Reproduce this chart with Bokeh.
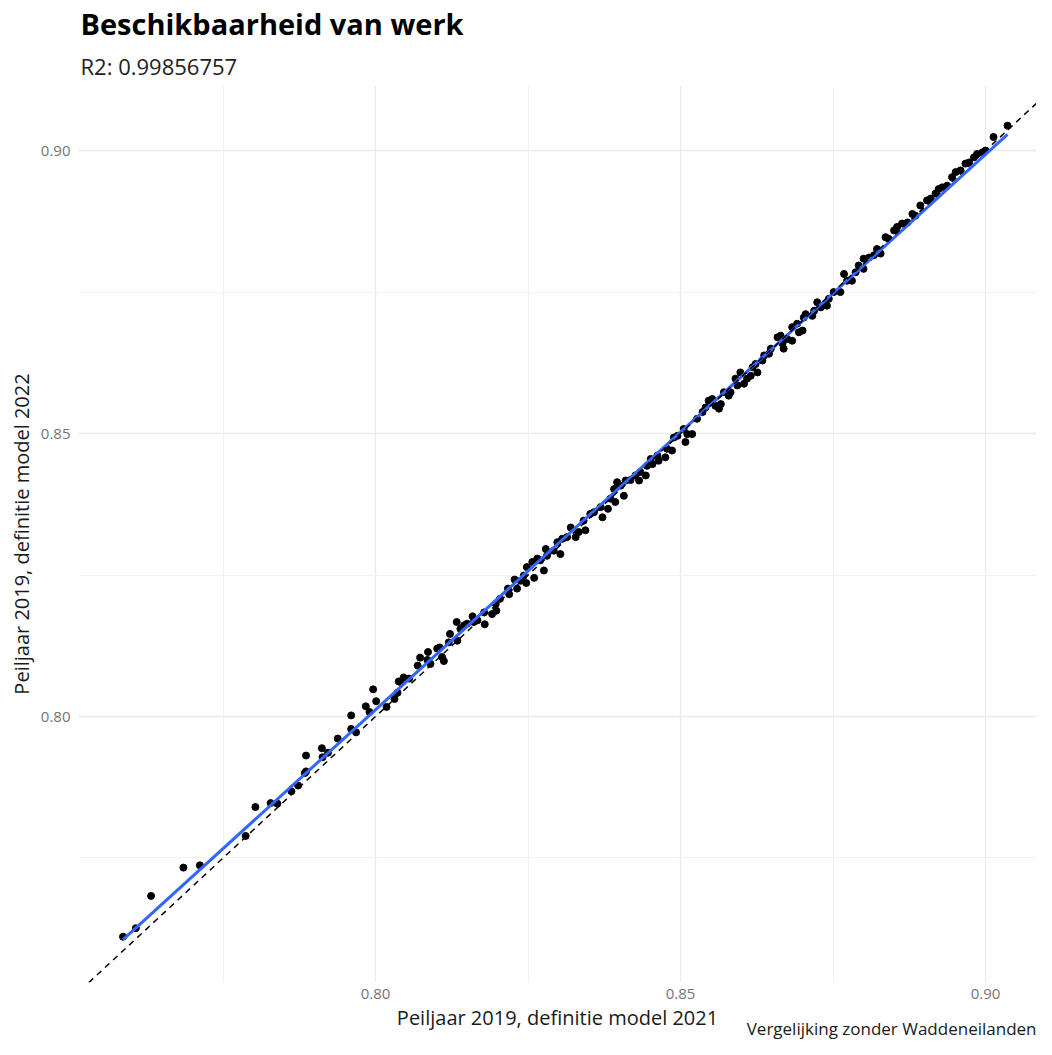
import numpy as np
from bokeh.plotting import figure
from bokeh.models import Slope, Title, FixedTicker, NumeralTickFormatter, ColumnDataSource
from bokeh.embed import file_html
from bokeh.resources import INLINE

title_text = "Beschikbaarheid van werk"
subtitle_text = "R2: 0.99856757"
x_label = "Peiljaar 2019, definitie model 2021"
y_label = "Peiljaar 2019, definitie model 2022"
caption_text = "Vergelijking zonder Waddeneilanden"

major_ticks = [0.80, 0.85, 0.90]
minor_ticks = [0.775, 0.825, 0.875]

x_model_2021 = [
    0.7586, 0.7607, 0.7632, 0.7685, 0.7712, 0.7787, 0.7803, 0.7828, 0.7839, 0.7862,
    0.7873, 0.7884, 0.7886, 0.7886, 0.7912, 0.7913, 0.7922, 0.7938, 0.7960, 0.7960,
    0.7968, 0.7984, 0.7990, 0.7996, 0.8001, 0.8018, 0.8031, 0.8036, 0.8038, 0.8041,
    0.8046, 0.8055, 0.8069, 0.8073, 0.8085, 0.8086, 0.8090, 0.8101, 0.8105, 0.8109,
    0.8112, 0.8120, 0.8122, 0.8133, 0.8134, 0.8139, 0.8145, 0.8150, 0.8159, 0.8161,
    0.8167, 0.8178, 0.8179, 0.8191, 0.8198, 0.8197, 0.8204, 0.8217, 0.8219, 0.8228,
    0.8232, 0.8238, 0.8243, 0.8247, 0.8260, 0.8248, 0.8257, 0.8265, 0.8270, 0.8276,
    0.8279, 0.8281, 0.8292, 0.8298, 0.8303, 0.8306, 0.8314, 0.8320, 0.8328, 0.8333,
    0.8341, 0.8344, 0.8352, 0.8358, 0.8369, 0.8372, 0.8381, 0.8385, 0.8393, 0.8391,
    0.8396, 0.8402, 0.8407, 0.8410, 0.8418, 0.8426, 0.8432, 0.8434, 0.8443, 0.8445,
    0.8451, 0.8454, 0.8462, 0.8464, 0.8475, 0.8478, 0.8486, 0.8489, 0.8495, 0.8508,
    0.8511, 0.8519, 0.8505, 0.8527, 0.8536, 0.8541, 0.8546, 0.8552, 0.8557, 0.8563,
    0.8566, 0.8571, 0.8579, 0.8582, 0.8590, 0.8593, 0.8598, 0.8604, 0.8609, 0.8615,
    0.8618, 0.8623, 0.8626, 0.8634, 0.8637, 0.8645, 0.8648, 0.8659, 0.8664, 0.8667,
    0.8669, 0.8675, 0.8683, 0.8683, 0.8691, 0.8694, 0.8700, 0.8702, 0.8705, 0.8716,
    0.8719, 0.8724, 0.8730, 0.8740, 0.8743, 0.8751, 0.8762, 0.8768, 0.8773, 0.8781,
    0.8787, 0.8792, 0.8800, 0.8800, 0.8809, 0.8817, 0.8822, 0.8828, 0.8836, 0.8841,
    0.8850, 0.8855, 0.8863, 0.8872, 0.8880, 0.8885, 0.8893, 0.8904, 0.8910, 0.8918,
    0.8923, 0.8929, 0.8937, 0.8945, 0.8951, 0.8959, 0.8967, 0.8973, 0.8981, 0.8986,
    0.8995, 0.9000, 0.9013, 0.9036,
]

y_model_2022 = [
    0.7611, 0.7626, 0.7683, 0.7733, 0.7737, 0.7789, 0.7840, 0.7847, 0.7846, 0.7868,
    0.7878, 0.7900, 0.7931, 0.7903, 0.7944, 0.7928, 0.7936, 0.7961, 0.8002, 0.7978,
    0.7972, 0.8018, 0.8008, 0.8048, 0.8027, 0.8017, 0.8031, 0.8042, 0.8062, 0.8061,
    0.8069, 0.8067, 0.8090, 0.8104, 0.8100, 0.8114, 0.8093, 0.8120, 0.8122, 0.8105,
    0.8098, 0.8131, 0.8146, 0.8167, 0.8134, 0.8155, 0.8161, 0.8164, 0.8177, 0.8167,
    0.8170, 0.8184, 0.8163, 0.8181, 0.8187, 0.8199, 0.8208, 0.8226, 0.8216, 0.8242,
    0.8226, 0.8240, 0.8249, 0.8236, 0.8245, 0.8264, 0.8273, 0.8279, 0.8276, 0.8258,
    0.8296, 0.8284, 0.8293, 0.8308, 0.8287, 0.8314, 0.8317, 0.8334, 0.8317, 0.8326,
    0.8346, 0.8329, 0.8358, 0.8361, 0.8370, 0.8352, 0.8367, 0.8385, 0.8379, 0.8402,
    0.8414, 0.8408, 0.8390, 0.8417, 0.8418, 0.8426, 0.8417, 0.8432, 0.8426, 0.8443,
    0.8455, 0.8446, 0.8461, 0.8452, 0.8458, 0.8473, 0.8470, 0.8493, 0.8496, 0.8485,
    0.8499, 0.8499, 0.8508, 0.8526, 0.8538, 0.8546, 0.8558, 0.8561, 0.8549, 0.8544,
    0.8552, 0.8573, 0.8567, 0.8573, 0.8597, 0.8585, 0.8608, 0.8588, 0.8597, 0.8602,
    0.8617, 0.8623, 0.8608, 0.8629, 0.8638, 0.8641, 0.8650, 0.8670, 0.8673, 0.8659,
    0.8650, 0.8667, 0.8664, 0.8688, 0.8694, 0.8679, 0.8682, 0.8705, 0.8711, 0.8708,
    0.8717, 0.8732, 0.8723, 0.8726, 0.8738, 0.8750, 0.8750, 0.8782, 0.8770, 0.8770,
    0.8785, 0.8797, 0.8791, 0.8809, 0.8811, 0.8815, 0.8826, 0.8818, 0.8847, 0.8844,
    0.8859, 0.8865, 0.8871, 0.8873, 0.8888, 0.8885, 0.8903, 0.8912, 0.8915, 0.8924,
    0.8932, 0.8935, 0.8938, 0.8953, 0.8962, 0.8965, 0.8977, 0.8979, 0.8988, 0.8994,
    0.8997, 0.9000, 0.9024, 0.9044,
]

FONT = "Open Sans"

W, H = 1036, 1039
BL, BR, BT, BB = 78, 0, 85, 57
FW, FH = W - BL - BR, H - BT - BB

p = figure(
    width=W, height=H,
    x_range=(0.7513, 0.7513 + FW / 6100.0), y_range=(0.7530, 0.9115),
    output_backend="svg", toolbar_location=None,
    min_border_left=BL, min_border_right=BR, min_border_top=BT, min_border_bottom=BB,
)
p.outline_line_color = None
p.background_fill_color = "white"
p.border_fill_color = "white"

for ax in (p.xaxis, p.yaxis):
    ax.ticker = FixedTicker(ticks=major_ticks, minor_ticks=minor_ticks)
    ax.formatter = NumeralTickFormatter(format="0.00")
    ax.axis_line_color = None
    ax.major_tick_line_color = None
    ax.minor_tick_line_color = None
    ax.major_tick_out = 0
    ax.major_tick_in = 0
    ax.minor_tick_out = 0
    ax.minor_tick_in = 0
    ax.major_label_text_font = FONT
    ax.major_label_text_font_size = "15px"
    ax.major_label_text_color = "#757575"
    ax.axis_label_text_font = FONT
    ax.axis_label_text_font_size = "20px"
    ax.axis_label_text_font_style = "normal"
    ax.axis_label_text_color = "#1a1a1a"

p.xaxis.axis_label = x_label
p.yaxis.axis_label = y_label
p.xaxis.major_label_standoff = 6
p.yaxis.major_label_standoff = 8
p.xaxis.axis_label_standoff = 2
p.yaxis.axis_label_standoff = 3

for g in (p.xgrid, p.ygrid):
    g.grid_line_color = "#ebebeb"
    g.grid_line_width = 1.3
    g.minor_grid_line_color = "#f0f0f0"
    g.minor_grid_line_width = 0.9

src = ColumnDataSource(data=dict(x=x_model_2021, y=y_model_2022))
p.scatter("x", "y", source=src, size=7, color="black")

p.add_layout(Slope(gradient=1, y_intercept=0, line_color="black",
                   line_dash="6 5", line_width=1.5))

xa = np.array(x_model_2021)
ya = np.array(y_model_2022)
slope, intercept = np.polyfit(xa, ya, 1)
xs = np.array([xa.min(), xa.max()])
p.line(xs, intercept + slope * xs, line_color="#3366FF", line_width=3)

sub = Title(text=subtitle_text, align="left", text_font=FONT,
            text_font_size="22px", text_font_style="normal", text_color="#222222",
            standoff=10, offset=2)
p.add_layout(sub, "above")
main = Title(text=title_text, align="left", text_font=FONT,
             text_font_size="29px", text_font_style="bold", text_color="black",
             standoff=1, offset=2)
p.add_layout(main, "above")

cap = Title(text=caption_text, align="right", vertical_align="top", text_font=FONT,
            text_font_size="17px", text_font_style="normal", text_color="#1a1a1a",
            standoff=-34)
p.add_layout(cap, "below")

open("out.html", "w").write(file_html(p, INLINE))
